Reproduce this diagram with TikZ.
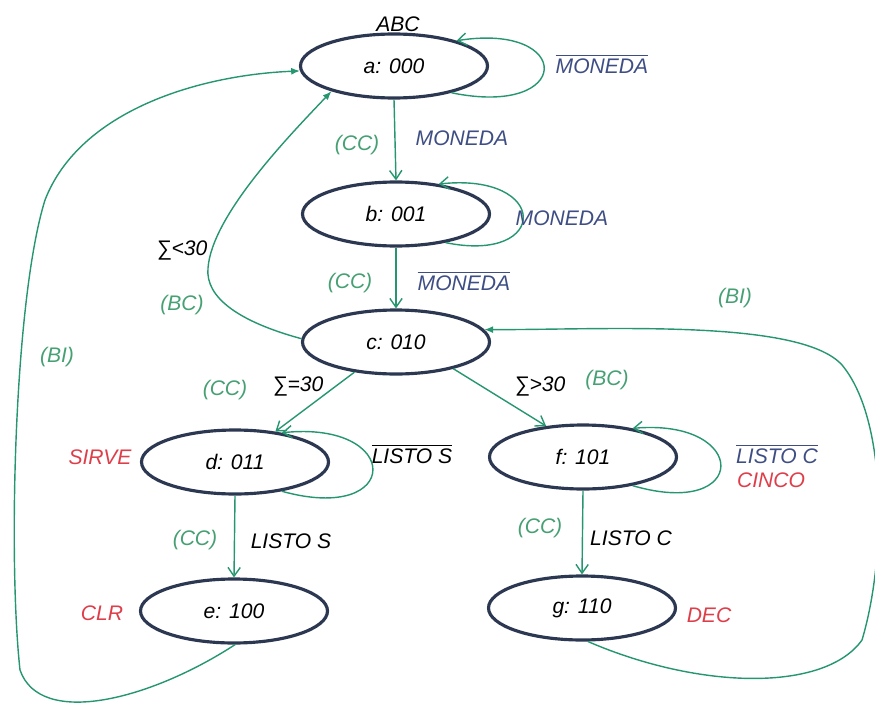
\documentclass[tikz,border=0pt]{standalone}
\usepackage{amsmath}
\usepackage{fontspec}
\setmainfont{Liberation Sans}
\usetikzlibrary{shapes.geometric,arrows.meta}
\definecolor{stateline}{RGB}{44,56,82}
\definecolor{linkgreen}{RGB}{38,150,112}
\definecolor{labgreen}{RGB}{70,160,115}
\definecolor{labblue}{RGB}{62,78,132}
\definecolor{labred}{RGB}{222,62,74}
\begin{document}
\begin{tikzpicture}[x=0.02cm,y=-0.02cm,font=\fontsize{12}{14}\selectfont\itshape,
  state/.style={ellipse,draw=stateline,line width=1.8pt,minimum width=3.74cm,minimum height=1.28cm,inner sep=0pt},
  link/.style={linkgreen,line width=0.8pt,-{Straight Barb[length=5pt,width=7pt]}},
  back/.style={linkgreen,line width=0.8pt,-{Latex[length=5pt,width=4pt]}}]
\useasboundingbox (0,0) rectangle (875,713);
\node[state] (a) at (394,66) {a: 000};
\node[state] (b) at (396,214) {b: 001};
\node[state] (c) at (396,342) {c: 010};
\node[state] (d) at (235,462) {d: 011};
\node[state] (e) at (234,611) {e: 100};
\node[state] (f) at (583,457) {f: 101};
\node[state] (g) at (582,608) {g: 110};
\draw[link] (a.south) -- (b.north);
\draw[link] (b.south) -- (c.north);
\draw[link] (c.-144) -- (d.37);
\draw[link] (c.-25) -- (f.140);
\draw[link] (d.south) -- (e.north);
\draw[link] (f.south) -- (g.north);
\draw[link] (a.-25) .. controls (574,118) and (574,22) .. (a.22);
\draw[link] (b.-30) .. controls (550,264) and (550,172) .. (b.35);
\draw[link] (d.-32) .. controls (403,525) and (403,420) .. (d.32);
\draw[link] (f.-30) .. controls (750,520) and (750,418) .. (f.30);
\draw[back] (c.178) .. controls (240,322) and (205,298) .. (208,268) .. controls (212,215) and (290,135) .. (a.-158);
\draw[back] (e.-88) .. controls (150,700) and (40,728) .. (20,670) .. controls (8,560) and (14,300) .. (45,200) .. controls (80,110) and (200,75) .. (a.183);
\draw[back] (g.-80) .. controls (700,690) and (825,692) .. (862,640) .. controls (886,560) and (888,420) .. (842,365) .. controls (800,318) and (600,330) .. (c.8);
\node (abc) at (398,24) {ABC};
\node[labblue] (nomonA) at (602,64) {$\overline{\text{\itshape MONEDA}}$};
\node[labgreen] (ccA) at (357,145) {(CC)};
\node[labblue] (monA) at (462,138) {MONEDA};
\node[labblue] (monB) at (562,218) {MONEDA};
\node[labgreen] (ccB) at (350,283) {(CC)};
\node[labblue] (nomonB) at (464,281) {$\overline{\text{\itshape MONEDA}}$};
\node (menor) at (182,250) {∑<30};
\node[labgreen] (bcA) at (182,305) {(BC)};
\node[labgreen] (biA) at (57,357) {(BI)};
\node[labgreen] (biB) at (735,298) {(BI)};
\node[labgreen] (ccC) at (225,390) {(CC)};
\node (igual) at (298,386) {∑=30};
\node (mayor) at (540,386) {∑>30};
\node[labgreen] (bcB) at (607,380) {(BC)};
\node[labred] (sirve) at (100,457) {SIRVE};
\node (nolistoS) at (412,454) {$\overline{\text{\itshape LISTO S}}$};
\node[labblue] (nolistoC) at (777,454) {$\overline{\text{\itshape LISTO C}}$};
\node[labred] (cinco) at (771,480) {CINCO};
\node[labgreen] (ccD) at (195,540) {(CC)};
\node (listoS) at (291,541) {LISTO S};
\node[labgreen] (ccE) at (540,528) {(CC)};
\node (listoC) at (631,538) {LISTO C};
\node[labred] (clr) at (102,613) {CLR};
\node[labred] (dec) at (709,615) {DEC};
\end{tikzpicture}
\end{document}
